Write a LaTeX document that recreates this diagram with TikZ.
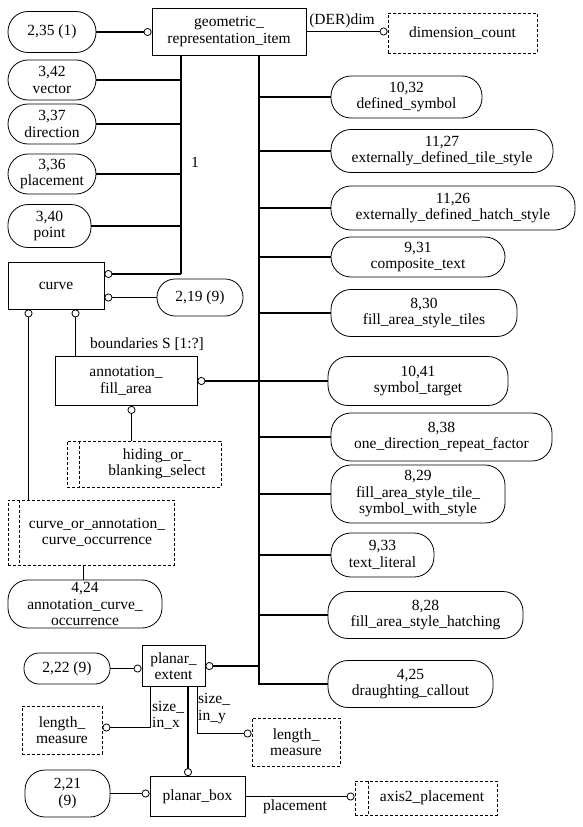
\documentclass[tikz,border=0pt]{standalone}
\usepackage{fontspec}
\setmainfont{Liberation Serif}
\usetikzlibrary{arrows.meta}
\begin{document}
\begin{tikzpicture}[x=1pt,y=-1pt,
  every node/.style={font=\fontsize{15.5}{16.5}\selectfont},
  ent/.style={draw, line width=0.8pt, align=center, inner sep=0pt},
  ovl/.style={draw, line width=0.8pt, rounded corners=20pt, align=center, inner sep=0pt},
  dbox/.style={draw, line width=0.8pt, dash pattern=on 3pt off 2pt, align=center, inner sep=0pt},
  inl/.style={line width=0.8pt, dash pattern=on 3pt off 2pt},
  sub/.style={line width=2pt},
  att/.style={line width=0.8pt},
  ctip/.style={-{Circle[open,length=8pt,width=8pt,line width=0.8pt]}},
  lbl/.style={inner sep=0pt}]
\useasboundingbox (0,0) rectangle (582,827);

% top
\node[ent, minimum width=154pt, minimum height=47pt] (gri) at (229,31.5) {geometric\_\\representation\_item};
\node[dbox, minimum width=149pt, minimum height=40pt] (dim) at (462.5,33) {dimension\_count};
\node[ovl, minimum width=88pt, minimum height=41pt] (n235) at (52,32) {2,35 (1)};

% left column
\node[ovl, minimum width=88pt, minimum height=40pt] (vec) at (52,80) {3,42\\vector};
\node[ovl, minimum width=88pt, minimum height=40pt] (dir) at (52,124) {3,37\\direction};
\node[ovl, minimum width=88pt, minimum height=40pt] (plc) at (52,174) {3,36\\placement};
\node[ovl, minimum width=83pt, minimum height=43pt] (pnt) at (49.5,226) {3,40\\point};
\node[ent, minimum width=96pt, minimum height=47pt] (curve) at (56,285.5) {curve};
\node[ovl, rounded corners=18pt, minimum width=86pt, minimum height=37pt] (n219) at (200,297.5) {2,19 (9)};
\node[ent, minimum width=142pt, minimum height=49pt] (afa) at (126,381) {annotation\_\\fill\_area};
\node[dbox, minimum width=154pt, minimum height=46pt] (hob) at (144,464) {\hspace*{26pt}hiding\_or\_\\\hspace*{26pt}blanking\_select};
\node[dbox, minimum width=166pt, minimum height=65pt] (coa) at (91,532.5) {\hspace*{12pt}curve\_or\_annotation\_\\\hspace*{12pt}curve\_occurrence};
\node[ovl, minimum width=154pt, minimum height=48pt] (n424) at (85,604) {4,24\\annotation\_curve\_\\occurrence};
\node[ovl, rounded corners=15pt, minimum width=86pt, minimum height=31pt] (n222) at (67,668.5) {2,22 (9)};
\node[ent, minimum width=63pt, minimum height=41pt] (pe) at (173.5,666) {planar\_\\extent};
\node[dbox, minimum width=80pt, minimum height=48pt] (lm1) at (62,730) {length\_\\measure};
\node[dbox, minimum width=88pt, minimum height=48pt] (lm2) at (296,742) {length\_\\measure};
\node[ovl, minimum width=85pt, minimum height=47pt] (n221) at (67.5,793.5) {2,21\\(9)};
\node[ent, minimum width=95pt, minimum height=40pt] (pb) at (197.5,796.5) {planar\_box};
\node[dbox, minimum width=142pt, minimum height=34pt] (ax) at (426,798) {\hspace*{12pt}axis2\_placement};

% right column
\node[ovl, minimum width=151pt, minimum height=42pt] (ds) at (406.5,97) {10,32\\defined\_symbol};
\node[ovl, minimum width=222pt, minimum height=43pt] (edts) at (442,151) {11,27\\externally\_defined\_tile\_style};
\node[ovl, minimum width=244pt, minimum height=44pt] (edhs) at (453,208) {11,26\\externally\_defined\_hatch\_style};
\node[ovl, minimum width=174pt, minimum height=40pt] (ct) at (418,257) {9,31\\composite\_text};
\node[ovl, minimum width=186pt, minimum height=47pt] (fast) at (424,313) {8,30\\fill\_area\_style\_tiles};
\node[ovl, minimum width=180pt, minimum height=49pt] (st) at (418,381) {10,41\\symbol\_target};
\node[ovl, minimum width=221pt, minimum height=48pt] (odrf) at (441.5,437) {8,38\\one\_direction\_repeat\_factor};
\node[ovl, minimum width=174pt, minimum height=58pt] (fsws) at (418,494) {8,29\\fill\_area\_style\_tile\_\\symbol\_with\_style};
\node[ovl, minimum width=103pt, minimum height=44pt] (tl) at (382.5,555) {9,33\\text\_literal};
\node[ovl, minimum width=195pt, minimum height=47pt] (fash) at (425.5,615) {8,28\\fill\_area\_style\_hatching};
\node[ovl, minimum width=165pt, minimum height=47pt] (dc) at (410.5,684) {4,25\\draughting\_callout};

% labels
\node[lbl] (l1) at (195,162) {1};
\node[lbl] (lder) at (342,21) {(DER)dim};
\node[lbl] (lbd) at (147,344) {boundaries S [1:?]};
\node[lbl, anchor=west, align=left] (lsx) at (152,715.5) {size\_\\in\_x};
\node[lbl, anchor=west, align=left] (lsy) at (198,708.5) {size\_\\in\_y};
\node[lbl] (lpl) at (295,807) {placement};

% coordinates
\coordinate (bl) at (181,274);
\coordinate (br) at (259,684);
\coordinate (c1) at (28.5,0);
\coordinate (c2) at (75.5,0);
\coordinate (c3) at (131.5,0);
\coordinate (c4) at (83.5,0);
\coordinate (k1) at (150.5,727.5);
\coordinate (k2) at (188,0);
\coordinate (k3) at (197.5,733.5);

% inner lines of select boxes
\draw[inl] ([xshift=13pt]hob.north west) -- ([xshift=13pt]hob.south west);
\draw[inl] ([xshift=12pt]coa.north west) -- ([xshift=12pt]coa.south west);
\draw[inl] ([xshift=14pt]ax.north west) -- ([xshift=14pt]ax.south west);

% connectors top
\draw[sub, ctip] (n235.east) -- (n235.east -| gri.west);
\draw[att, ctip] (gri.east) -- (gri.east -| dim.west);

% left bus
\draw[sub] (gri.south -| bl) -- (bl);
\draw[sub, ctip] (bl) -- (bl -| curve.east);
\draw[sub] (vec.east) -- (vec.east -| bl);
\draw[sub] (dir.east) -- (dir.east -| bl);
\draw[sub] (plc.east) -- (plc.east -| bl);
\draw[sub] (pnt.east) -- (pnt.east -| bl);

% curve relations
\draw[att, ctip] (n219.west) -- (n219.west -| curve.east);
\draw[att, ctip] (afa.north -| c2) -- (curve.south -| c2);
\draw[att, ctip] (coa.north -| c1) -- (curve.south -| c1);
\draw[att, ctip] (hob.north -| c3) -- (afa.south -| c3);
\draw[att] (coa.south -| c4) -- (n424.north -| c4);

% right bus
\draw[sub] (gri.south -| br) -- (br) -- (dc.west);
\draw[sub] (ds.west -| br) -- (ds.west);
\draw[sub] (edts.west -| br) -- (edts.west);
\draw[sub] (edhs.west -| br) -- (edhs.west);
\draw[sub] (ct.west -| br) -- (ct.west);
\draw[sub] (fast.west -| br) -- (fast.west);
\draw[sub, ctip] (st.west) -- (st.west -| afa.east);
\draw[sub] (odrf.west -| br) -- (odrf.west);
\draw[sub] (fsws.west -| br) -- (fsws.west);
\draw[sub] (tl.west -| br) -- (tl.west);
\draw[sub] (fash.west -| br) -- (fash.west);
\draw[sub, ctip] (pe.east -| br) -- (pe.east);

% planar extent / box
\draw[att, ctip] (n222.east) -- (n222.east -| pe.west);
\draw[att, ctip] (pe.south -| k1) -- (k1) -- (k1 -| lm1.east);
\draw[sub, ctip] (pe.south -| k2) -- (pb.north -| k2);
\draw[att, ctip] (pe.south -| k3) -- (k3) -- (k3 -| lm2.west);
\draw[att, ctip] (n221.east) -- (n221.east -| pb.west);
\draw[att, ctip] (pb.east) -- (pb.east -| ax.west);
\end{tikzpicture}
\end{document}
